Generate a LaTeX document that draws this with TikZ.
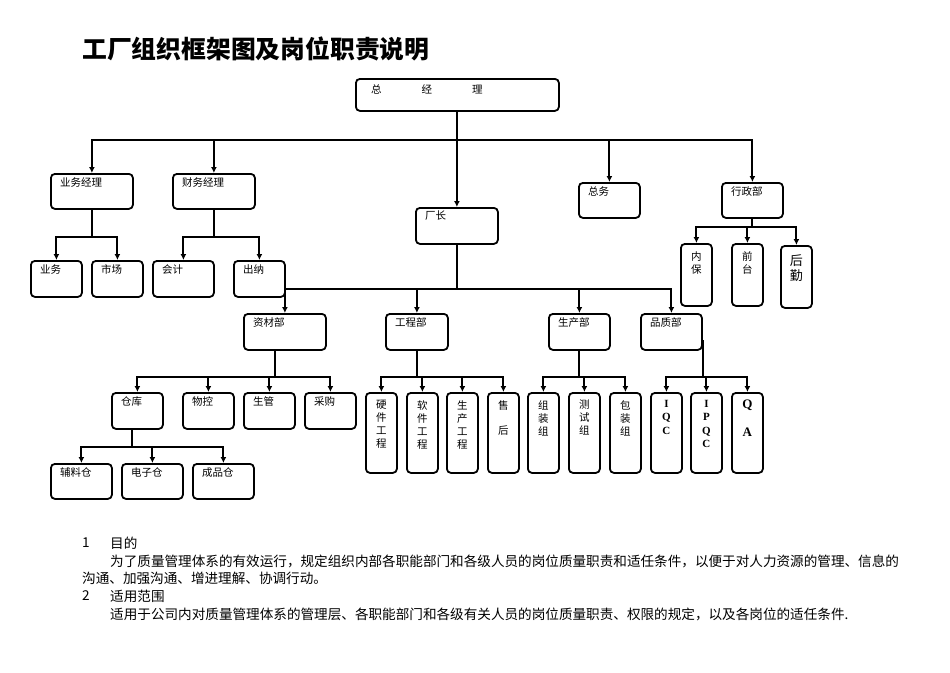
\documentclass[tikz,border=0pt]{standalone}
\usepackage{fontspec}
\setmainfont{Liberation Serif}
\newfontfamily\cjk{Noto Sans CJK SC}
\usetikzlibrary{arrows.meta}
\tikzset{
  box/.style={draw,line width=1.8pt,rounded corners=4pt,inner sep=0pt},
  lbl/.style={anchor=north west,xshift=10pt,yshift=-4pt,font=\cjk\fontsize{10.5}{13}\selectfont,inner sep=0pt},
  vlbl/.style={anchor=north,yshift=-8pt,font=\cjk\fontsize{10.5}{13}\selectfont,inner sep=0pt,align=center},
  wire/.style={draw,line width=2pt,line cap=rect},
  conn/.style={draw,line width=2pt,-{Latex[length=6pt,width=6pt]}},
  txt/.style={anchor=west,inner sep=0pt,font=\cjk\fontsize{13.6}{15}\selectfont}
}
\newcommand\obox[6]{\node[box,anchor=north west,minimum width={#4pt-#2pt},minimum height={#5pt-#3pt},label={[lbl]north west:#6}] (#1) at (#2,#3) {};}
\newcommand\vobox[6]{\node[box,anchor=north west,minimum width={#4pt-#2pt},minimum height={#5pt-#3pt},label={[vlbl]north:#6}] (#1) at (#2,#3) {};}
% tree: parent anchor, bar offset, first child, last child, list of children
\newcommand\tree[5]{%
  \path[wire] (#1) -- ++(0,#2) coordinate (bar);
  \path[wire] (bar -| #3.north) -- (bar -| #4.north);
  \foreach \c in {#5} {\path[conn] (bar -| \c.north) -- (\c.north);}
}
\begin{document}
\begin{tikzpicture}[x=1pt,y=-1pt]
\useasboundingbox (0,0) rectangle (950,672);
\node[anchor=west,inner sep=0pt,font=\cjk\bfseries\fontsize{24.8}{28}\selectfont] (title) at (82,49) {工厂组织框架图及岗位职责说明};
\node[box,anchor=north west,minimum width=203pt,minimum height=32pt] (gm) at (355,78) {};
\node[anchor=west,inner sep=0pt,font=\cjk\fontsize{10.5}{13}\selectfont] (gmt) at (371,89) {总\hspace{40pt}经\hspace{40pt}理};
\obox{ywjl}{50}{173}{132}{208}{业务经理}
\obox{cwjl}{172}{173}{254}{208}{财务经理}
\obox{cz}{415}{207}{497}{243}{厂长}
\obox{zw}{578}{182}{639}{217}{总务}
\obox{xzb}{721}{182}{782}{217}{行政部}
\obox{yw}{30}{260}{81}{296}{业务}
\obox{sc}{91}{260}{142}{296}{市场}
\obox{kj}{152}{260}{213}{296}{会计}
\obox{cn}{233}{260}{284}{296}{出纳}
\vobox{nb}{680}{243}{711}{305}{内\\保}
\vobox{qt}{731}{243}{762}{305}{前\\台}
\node[box,anchor=north west,minimum width=31pt,minimum height=62pt,label={[vlbl,yshift=-1pt,font=\cjk\fontsize{13}{15}\selectfont]north:后\\勤}] (hq) at (780,245) {};
\obox{zcb}{243}{313}{325}{349}{资材部}
\obox{gcb}{385}{313}{447}{349}{工程部}
\obox{scb}{548}{313}{609}{349}{生产部}
\obox{pzb}{640}{313}{701}{349}{品质部}
\obox{ck}{111}{392}{162}{428}{仓库}
\obox{wk}{182}{392}{233}{428}{物控}
\obox{sg}{243}{392}{294}{428}{生管}
\obox{cg}{304}{392}{355}{428}{采购}
\obox{flc}{50}{463}{111}{498}{辅料仓}
\obox{dzc}{121}{463}{182}{498}{电子仓}
\obox{cpc}{192}{463}{253}{498}{成品仓}
\vobox{yj}{365}{392}{396}{472}{硬\\件\\工\\程}
\vobox{rj}{406}{392}{437}{472}{软\\件\\工\\程}
\vobox{scgc}{446}{392}{477}{472}{生\\产\\工\\程}
\vobox{sh}{487}{392}{518}{472}{售\\[12pt]后}
\vobox{zz}{527}{392}{558}{472}{组\\装\\组}
\vobox{cs}{568}{392}{599}{472}{测\\试\\组}
\vobox{bz}{609}{392}{640}{472}{包\\装\\组}
\node[box,anchor=north west,minimum width=31pt,minimum height=80pt,label={[vlbl,font=\bfseries\fontsize{11}{13.5}\selectfont]north:I\\Q\\C}] (iqc) at (650,392) {};
\node[box,anchor=north west,minimum width=31pt,minimum height=80pt,label={[vlbl,font=\bfseries\fontsize{11}{13.5}\selectfont]north:I\\P\\Q\\C}] (ipqc) at (690,392) {};
\node[box,anchor=north west,minimum width=31pt,minimum height=80pt,label={[vlbl,font=\bfseries\fontsize{13}{16}\selectfont]north:Q\\[12pt]A}] (qa) at (731,392) {};
% connectors
\tree{gm.south}{28}{ywjl}{xzb}{ywjl,cwjl,cz,zw,xzb}
\tree{ywjl.south}{27}{yw}{sc}{yw,sc}
\tree{cwjl.south}{27}{kj}{cn}{kj,cn}
\tree{xzb.south}{8}{nb}{hq}{nb,qt,hq}
\tree{cz.south}{44}{zcb}{pzb}{zcb,gcb,scb,pzb}
\tree{[xshift=-10pt]zcb.south}{26}{ck}{cg}{ck,wk,sg,cg}
\tree{gcb.south}{26}{yj}{sh}{yj,rj,scgc,sh}
\tree{scb.south}{26}{zz}{bz}{zz,cs,bz}
\tree{[yshift=10pt]pzb.south east}{36}{iqc}{qa}{iqc,ipqc,qa}
\tree{[xshift=-5pt]ck.south}{17}{flc}{cpc}{flc,dzc,cpc}
% text
\node[txt] (n1) at (82,543) {1};
\node[txt] (t1) at (110,543) {目的};
\node[txt] (p1) at (110,561) {为了质量管理体系的有效运行，规定组织内部各职能部门和各级人员的岗位质量职责和适任条件，以便于对人力资源的管理、信息的};
\node[txt] (p2) at (82,578) {沟通、加强沟通、增进理解、协调行动。};
\node[txt] (n2) at (82,596) {2};
\node[txt] (t2) at (110,596) {适用范围};
\node[txt] (p3) at (110,614) {适用于公司内对质量管理体系的管理层、各职能部门和各级有关人员的岗位质量职责、权限的规定，以及各岗位的适任条件.};
\end{tikzpicture}
\end{document}
